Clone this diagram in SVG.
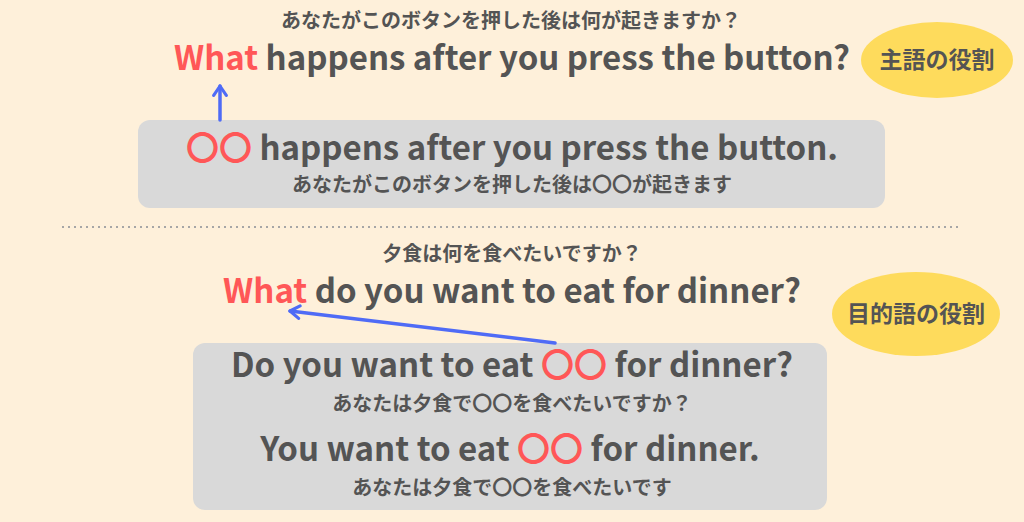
<svg xmlns="http://www.w3.org/2000/svg" width="1024" height="522" viewBox="0 0 1024 522">
<defs>
<style>
.t{font-family:"Noto Sans CJK JP","Noto Sans",sans-serif;font-weight:bold;fill:#545454;text-anchor:middle}
.big{font-size:33px}
.jp{font-size:20px;font-weight:bold}
.tag{font-size:23px}
.red{fill:#ff5757}
.box{fill:#d9d9d9}
.pill{fill:#fedb5c}
.arr{stroke:#4f6bf6;stroke-width:3.5;fill:none;stroke-linecap:round}
</style>
<marker id="ah" viewBox="0 0 10 10" refX="8" refY="5" markerWidth="4.5" markerHeight="4.5" orient="auto" markerUnits="strokeWidth">
<path d="M2,1 L8,5 L2,9" fill="none" stroke="#4f6bf6" stroke-width="2" stroke-linecap="round" stroke-linejoin="round"/>
</marker>
</defs>
<rect width="1024" height="522" fill="#fef0da"/>
<g id="top-question">
<text class="t jp" x="511" y="28">あなたがこのボタンを押した後は何が起きますか？</text>
<text class="t big" x="512" y="70"><tspan class="red">What</tspan> happens after you press the button?</text>
</g>
<g id="subject-tag">
<ellipse class="pill" cx="937" cy="60" rx="76" ry="38"/>
<text class="t tag" x="937" y="68">主語の役割</text>
</g>
<g id="top-box">
<rect class="box" x="138" y="120" width="747" height="88" rx="12"/>
<text class="t big" x="512" y="160"><tspan class="red">〇〇</tspan> happens after you press the button.</text>
<text class="t jp" x="512" y="192">あなたがこのボタンを押した後は〇〇が起きます</text>
</g>
<line x1="62" y1="227" x2="962" y2="227" stroke="#a6a6a6" stroke-width="2" stroke-dasharray="2 4"/>
<g id="bottom-question">
<text class="t jp" x="512" y="261">夕食は何を食べたいですか？</text>
<text class="t big" x="512" y="303"><tspan class="red">What</tspan> do you want to eat for dinner?</text>
</g>
<g id="object-tag">
<ellipse class="pill" cx="916" cy="314" rx="84" ry="42"/>
<text class="t tag" x="916" y="322">目的語の役割</text>
</g>
<g id="bottom-box">
<rect class="box" x="193" y="343" width="634" height="167" rx="12"/>
<text class="t big" x="512" y="377">Do you want to eat <tspan class="red">〇〇</tspan> for dinner?</text>
<text class="t jp" x="512" y="411">あなたは夕食で〇〇を食べたいですか？</text>
<text class="t big" x="510" y="461">You want to eat <tspan class="red">〇〇</tspan> for dinner.</text>
<text class="t jp" x="512" y="495">あなたは夕食で〇〇を食べたいです</text>
</g>
<g id="connectors">
<line class="arr" x1="220" y1="120" x2="220" y2="86" marker-end="url(#ah)"/>
<line class="arr" x1="555" y1="343" x2="290" y2="311" marker-end="url(#ah)"/>
</g>
</svg>
